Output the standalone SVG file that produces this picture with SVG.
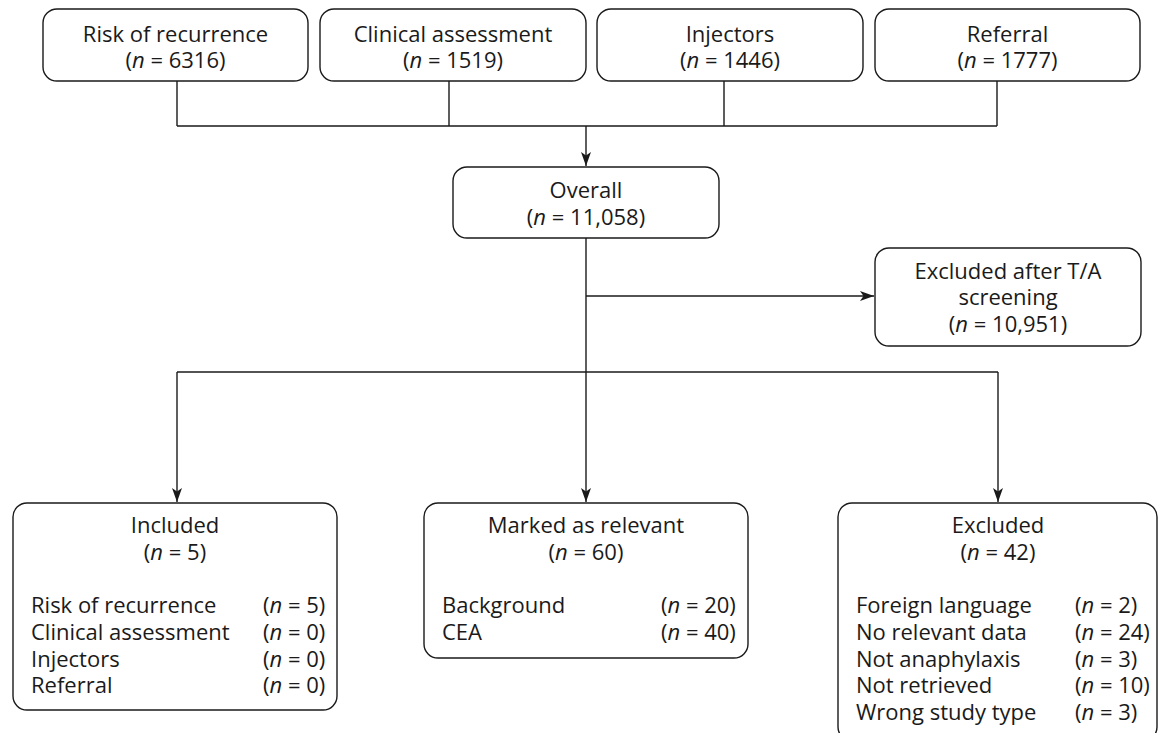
<svg xmlns="http://www.w3.org/2000/svg" width="1158" height="733" viewBox="0 0 1158 733">
<style>
  .box { fill: #ffffff; stroke: #1a1a1a; stroke-width: 1.4; }
  .t { font-family: "Open Sans", "Noto Sans", "Liberation Sans", sans-serif; font-size: 22px; fill: #1a1a1a; }
  .c { text-anchor: middle; }
  .i { font-style: italic; }
  .ln { fill: none; stroke: #1a1a1a; stroke-width: 1.4; }
</style>
<defs>
  <marker id="arr" markerUnits="userSpaceOnUse" markerWidth="15" markerHeight="12" refX="14" refY="5.5" orient="auto">
    <path d="M0,0.5 L14,5.5 L0,10.5 L3.5,5.5 z" fill="#1a1a1a"/>
  </marker>
</defs>
<rect width="1158" height="733" fill="#ffffff"/>

<g id="connectors">
  <path class="ln" d="M177,81 V126 M449,81 V126 M724,81 V126 M997,81 V126 M177,126 H997"/>
  <path class="ln" d="M586,126 V166" marker-end="url(#arr)"/>
  <path class="ln" d="M586,238 V372"/>
  <path class="ln" d="M586,296 H874" marker-end="url(#arr)"/>
  <path class="ln" d="M177,372 H998"/>
  <path class="ln" d="M177,372 V502" marker-end="url(#arr)"/>
  <path class="ln" d="M586,372 V502" marker-end="url(#arr)"/>
  <path class="ln" d="M998,372 V502" marker-end="url(#arr)"/>
</g>

<g id="risk">
  <rect class="box" x="43" y="9" width="265" height="72" rx="14"/>
  <text class="t c" x="175.5" y="42">Risk of recurrence</text>
  <text class="t c" x="175.5" y="68">(<tspan class="i">n</tspan> = 6316)</text>
</g>
<g id="clinical">
  <rect class="box" x="320" y="9" width="266" height="72" rx="14"/>
  <text class="t c" x="453" y="42">Clinical assessment</text>
  <text class="t c" x="453" y="68">(<tspan class="i">n</tspan> = 1519)</text>
</g>
<g id="injectors">
  <rect class="box" x="597" y="9" width="266" height="72" rx="14"/>
  <text class="t c" x="730" y="42">Injectors</text>
  <text class="t c" x="730" y="68">(<tspan class="i">n</tspan> = 1446)</text>
</g>
<g id="referral">
  <rect class="box" x="875" y="9" width="265" height="72" rx="14"/>
  <text class="t c" x="1007.5" y="42">Referral</text>
  <text class="t c" x="1007.5" y="68">(<tspan class="i">n</tspan> = 1777)</text>
</g>

<g id="overall">
  <rect class="box" x="453" y="167" width="266" height="71" rx="14"/>
  <text class="t c" x="586" y="198">Overall</text>
  <text class="t c" x="586" y="225">(<tspan class="i">n</tspan> = 11,058)</text>
</g>

<g id="excluded-ta">
  <rect class="box" x="875" y="248" width="266" height="98" rx="14"/>
  <text class="t c" x="1008" y="279">Excluded after T/A</text>
  <text class="t c" x="1008" y="305">screening</text>
  <text class="t c" x="1008" y="332">(<tspan class="i">n</tspan> = 10,951)</text>
</g>

<g id="included">
  <rect class="box" x="13" y="503" width="324" height="207" rx="14"/>
  <text class="t c" x="175" y="533">Included</text>
  <text class="t c" x="175" y="560">(<tspan class="i">n</tspan> = 5)</text>
  <text class="t" x="31" y="613">Risk of recurrence</text>
  <text class="t" x="263" y="613">(<tspan class="i">n</tspan> = 5)</text>
  <text class="t" x="31" y="640">Clinical assessment</text>
  <text class="t" x="263" y="640">(<tspan class="i">n</tspan> = 0)</text>
  <text class="t" x="31" y="667">Injectors</text>
  <text class="t" x="263" y="667">(<tspan class="i">n</tspan> = 0)</text>
  <text class="t" x="31" y="693">Referral</text>
  <text class="t" x="263" y="693">(<tspan class="i">n</tspan> = 0)</text>
</g>

<g id="relevant">
  <rect class="box" x="424" y="503" width="324" height="155" rx="14"/>
  <text class="t c" x="586" y="533">Marked as relevant</text>
  <text class="t c" x="586" y="560">(<tspan class="i">n</tspan> = 60)</text>
  <text class="t" x="442" y="613">Background</text>
  <text class="t" x="661" y="613">(<tspan class="i">n</tspan> = 20)</text>
  <text class="t" x="442" y="640">CEA</text>
  <text class="t" x="661" y="640">(<tspan class="i">n</tspan> = 40)</text>
</g>

<g id="excluded">
  <rect class="box" x="838" y="503" width="319" height="238" rx="14"/>
  <text class="t c" x="998" y="533">Excluded</text>
  <text class="t c" x="998" y="560">(<tspan class="i">n</tspan> = 42)</text>
  <text class="t" x="856" y="613">Foreign language</text>
  <text class="t" x="1075" y="613">(<tspan class="i">n</tspan> = 2)</text>
  <text class="t" x="856" y="640">No relevant data</text>
  <text class="t" x="1075" y="640">(<tspan class="i">n</tspan> = 24)</text>
  <text class="t" x="856" y="667">Not anaphylaxis</text>
  <text class="t" x="1075" y="667">(<tspan class="i">n</tspan> = 3)</text>
  <text class="t" x="856" y="693">Not retrieved</text>
  <text class="t" x="1075" y="693">(<tspan class="i">n</tspan> = 10)</text>
  <text class="t" x="856" y="720">Wrong study type</text>
  <text class="t" x="1075" y="720">(<tspan class="i">n</tspan> = 3)</text>
</g>
</svg>
